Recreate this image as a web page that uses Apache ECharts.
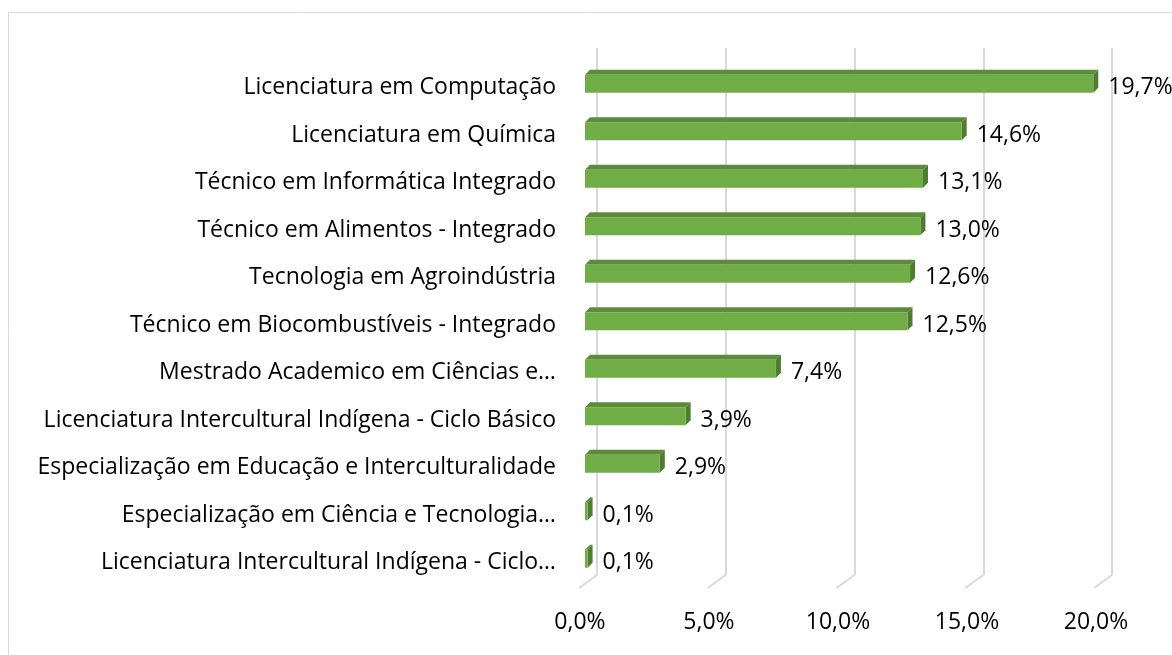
<!DOCTYPE html>
<html>
<head>
<meta charset="utf-8">
<script src="https://cdn.jsdelivr.net/npm/echarts@6/dist/echarts.min.js"></script>
<style>
  html, body { margin: 0; padding: 0; background: #fff; }
  #chart { width: 1172px; height: 655px; }
</style>
</head>
<body>
<div id="chart"></div>
<script>
// cursos, de cima para baixo
var cursos = [
  'Licenciatura em Computação',
  'Licenciatura em Química',
  'Técnico em Informática Integrado',
  'Técnico em Alimentos - Integrado',
  'Tecnologia em Agroindústria',
  'Técnico em Biocombustíveis - Integrado',
  'Mestrado Academico em Ciências e…',
  'Licenciatura Intercultural Indígena - Ciclo Básico',
  'Especialização em Educação e Interculturalidade',
  'Especialização em Ciência e Tecnologia…',
  'Licenciatura Intercultural Indígena - Ciclo…'
]
var percentuais = [19.7, 14.6, 13.1, 13.0, 12.6, 12.5, 7.4, 3.9, 2.9, 0.1, 0.1]
var ticks = [0, 5, 10, 15, 20]

var FONT = 'Open Sans'
var FONT_SIZE = 23
var DEPTH = 5
var BAR_H = 18

function fmt(v) {
  return v.toFixed(1).replace('.', ',') + '%'
}

var chart = echarts.init(document.getElementById('chart'))

chart.setOption({
  animation: false,
  graphic: [{
    type: 'rect',
    silent: true,
    shape: { x: 8.5, y: 12.5, width: 1300, height: 800 },
    style: { fill: 'none', stroke: '#d9d9d9', lineWidth: 1 }
  }],
  grid: [
    // plano frontal (barras)
    { left: 585, right: 71, top: 60, bottom: 72.5 },
    // plano de fundo (linhas de grade)
    { left: 597, right: 60, top: 48, bottom: 80 }
  ],
  xAxis: [{
    gridIndex: 0,
    type: 'value',
    min: 0,
    max: 20,
    interval: 5,
    axisLine: { show: false },
    axisTick: { show: false },
    splitLine: { show: false },
    axisLabel: {
      margin: 28,
      fontFamily: FONT,
      fontSize: FONT_SIZE,
      color: '#000',
      padding: [0, 10, 0, 0],
      formatter: function(v) { return fmt(v) }
    }
  }, {
    gridIndex: 1,
    type: 'value',
    min: 0,
    max: 20,
    interval: 5,
    axisLine: { show: false },
    axisTick: { show: false },
    axisLabel: { show: false },
    splitLine: { show: true, lineStyle: { color: '#d9d9d9', width: 2 } }
  }],
  yAxis: [{
    gridIndex: 0,
    type: 'category',
    data: cursos,
    inverse: true,
    axisLine: { show: false },
    axisTick: { show: false },
    axisLabel: {
      margin: 29,
      formatter: function(v) { return '{c|' + v + '}' },
      rich: {
        c: {
          fontFamily: FONT,
          fontSize: FONT_SIZE,
          color: '#000',
          padding: [8, 0, 0, 0]
        }
      }
    }
  }, {
    gridIndex: 1,
    type: 'value',
    min: 0,
    max: 1,
    show: false
  }],
  series: [{
    // chão em perspectiva: trecho inclinado no pé de cada linha de grade
    type: 'custom',
    xAxisIndex: 1,
    yAxisIndex: 1,
    silent: true,
    data: ticks,
    renderItem: function(params, api) {
      var p = api.coord([api.value(0), 0])
      return {
        type: 'line',
        shape: { x1: p[0], y1: p[1], x2: p[0] - 18, y2: p[1] + 13 },
        style: { stroke: '#d9d9d9', lineWidth: 2 }
      }
    }
  }, {
    type: 'custom',
    xAxisIndex: 0,
    yAxisIndex: 0,
    data: percentuais.map(function(v, i) { return [v, i] }),
    renderItem: function(params, api) {
      var start = api.coord([0, api.value(1)])
      var end = api.coord([api.value(0), api.value(1)])
      var x0 = start[0]
      var x1 = end[0]
      var y0 = end[1] - BAR_H / 2
      var y1 = end[1] + BAR_H / 2
      var d = DEPTH
      return {
        type: 'group',
        children: [{
          type: 'polygon',
          shape: { points: [[x0, y0], [x0 + d, y0 - d], [x1 + d, y0 - d], [x1, y0]] },
          style: { fill: '#5b8c3a' }
        }, {
          type: 'polygon',
          shape: { points: [[x1, y0], [x1 + d, y0 - d], [x1 + d, y1 - d], [x1, y1]] },
          style: { fill: '#4f7c30' }
        }, {
          type: 'rect',
          shape: { x: x0, y: y0, width: x1 - x0, height: BAR_H },
          style: { fill: '#70ad47' }
        }, {
          type: 'text',
          style: {
            x: x1 + d + 10,
            y: end[1] + 4,
            text: fmt(api.value(0)),
            fontFamily: FONT,
            fontSize: FONT_SIZE,
            fill: '#000',
            verticalAlign: 'middle',
            align: 'left'
          }
        }]
      }
    }
  }]
})
</script>
</body>
</html>
